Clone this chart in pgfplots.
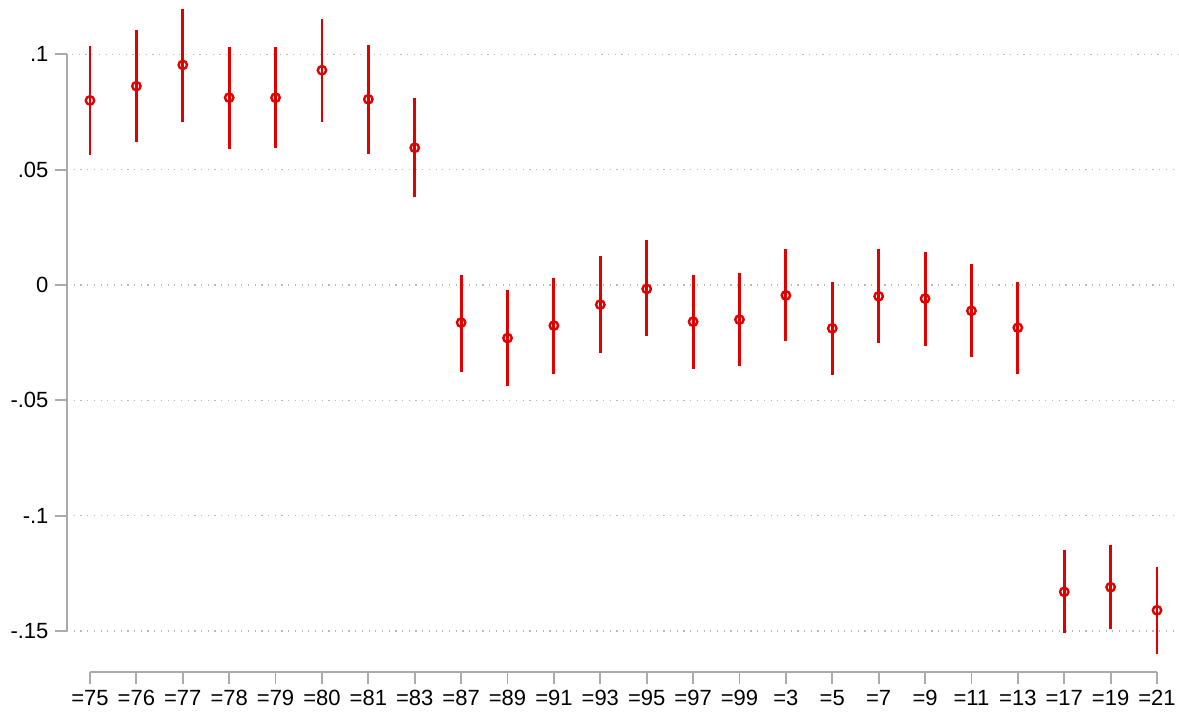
\documentclass[border=0pt]{standalone}
\usepackage{fontspec}
\setmainfont{Liberation Sans}
\usepackage{pgfplots}
\usepackage{pgfplotstable}
\pgfplotsset{compat=1.18}

\definecolor{ciRed}{RGB}{225,0,0}
\definecolor{axGray}{RGB}{170,170,170}
\definecolor{gridGray}{RGB}{185,185,185}

% coefficient, lower and upper bound of the 95% interval
\pgfplotstableread{
x b lo hi
0 0.0800 0.0562 0.1035
1 0.0862 0.0621 0.1106
2 0.0954 0.0706 0.1198
3 0.0812 0.0591 0.1032
4 0.0812 0.0592 0.1032
5 0.0931 0.0707 0.1153
6 0.0805 0.0568 0.1040
7 0.0595 0.0380 0.0809
8 -0.0163 -0.0376 0.0045
9 -0.0230 -0.0438 -0.0023
10 -0.0176 -0.0385 0.0031
11 -0.0085 -0.0295 0.0125
12 -0.0017 -0.0223 0.0193
13 -0.0159 -0.0363 0.0044
14 -0.0150 -0.0353 0.0051
15 -0.0045 -0.0244 0.0157
16 -0.0188 -0.0389 0.0013
17 -0.0049 -0.0251 0.0154
18 -0.0059 -0.0263 0.0145
19 -0.0112 -0.0314 0.0089
20 -0.0185 -0.0385 0.0013
21 -0.1330 -0.1509 -0.1148
22 -0.1310 -0.1493 -0.1128
23 -0.1410 -0.1601 -0.1221
}\coef

\begin{document}
\begin{tikzpicture}
\begin{axis}[
    scale only axis,
    width=556pt, height=336pt,
    at={(0,0)}, anchor=south west,
    xmin=-0.4958, xmax=23.474,
    ymin=-0.16775, ymax=0.12354,
    axis x line*=bottom, axis y line*=left,
    axis line style={draw=none,-},
    xtick={0,...,23},
    xticklabels={{=75},{=76},{=77},{=78},{=79},{=80},{=81},{=83},{=87},{=89},{=91},{=93},{=95},{=97},{=99},{=3},{=5},{=7},{=9},{=11},{=13},{=17},{=19},{=21}},
    ytick={-0.15,-0.1,-0.05,0,0.05,0.1},
    yticklabels={{-.15},{-.1},{-.05},{0},{.05},{.1}},
    ytick pos=left,
    tick align=outside,
    major tick length=5.75pt,
    tick style={axGray, line width=0.9pt},
    y tick style={axGray, line width=0.9pt},
    ymajorgrids,
    grid style={gridGray, line width=0.6pt, dash pattern=on 0.6pt off 2.75pt, shorten <=2.5pt},
    ticklabel style={font=\fontsize{11}{13}\selectfont},
    clip=false,
]
\addplot[ciRed, only marks, mark=o, mark size=2.1pt, mark options={line width=1.2pt},
    error bars/.cd, y dir=both, y explicit, error mark=none,
    error bar style={line width=1.45pt, ciRed}]
    table[x=x, y=b,
          y error plus expr=\thisrow{hi}-\thisrow{b},
          y error minus expr=\thisrow{b}-\thisrow{lo}] {\coef};
% Stata-style axis lines spanning only the tick range
\draw[axGray, line width=0.9pt] (axis cs:0,-0.16775) -- (axis cs:23,-0.16775);
\draw[axGray, line width=0.9pt] (axis cs:-0.4958,0.1) -- (axis cs:-0.4958,-0.15);
\end{axis}
\pgfresetboundingbox
\useasboundingbox (-33.5pt,-23pt) rectangle (556pt,336pt);
\end{tikzpicture}
\end{document}
